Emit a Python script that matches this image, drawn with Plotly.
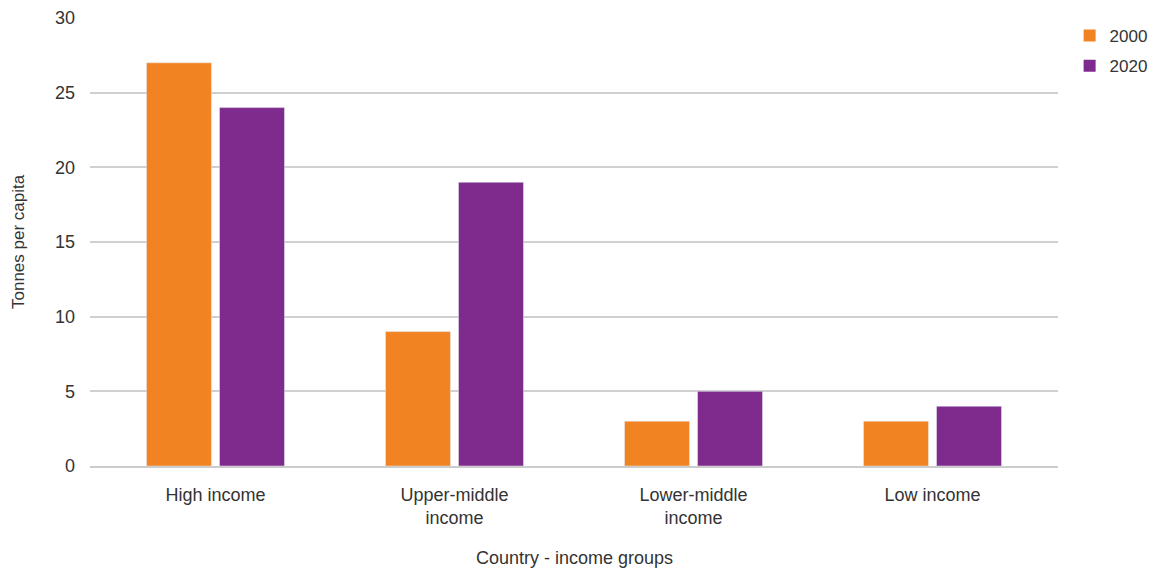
import plotly.graph_objects as go

categories = ["High income", "Upper-middle<br>income", "Lower-middle<br>income", "Low income"]
years = ["2000", "2020"]
values_2000 = [27, 9, 3, 3]
values_2020 = [24, 19, 5, 4]
colors = ["#F28322", "#7F2A8D"]

font_family = "Liberation Sans, Arial, sans-serif"
text_color = "#333333"

fig = go.Figure()
for name, vals, col in zip(years, [values_2000, values_2020], colors):
    fig.add_trace(go.Bar(x=categories, y=vals, name=name, marker_color=col,
                         showlegend=False, legendgroup=name))
    fig.add_trace(go.Scatter(x=[None], y=[None], mode="markers", name=name,
                             legendgroup=name,
                             marker=dict(symbol="square", size=17, color=col)))

fig.update_layout(
    width=1142, height=564,
    margin=dict(l=82, r=92, t=10, b=106, autoexpand=False),
    paper_bgcolor="white", plot_bgcolor="white",
    barmode="group", bargap=0.389, bargroupgap=0.11,
    font=dict(family=font_family, size=18, color=text_color),
    legend=dict(x=1.012, y=1.0, xanchor="left", yanchor="top",
                font=dict(size=17, color=text_color), itemsizing="constant",
                tracegroupgap=5, itemwidth=30),
    showlegend=True,
)
fig.update_xaxes(
    automargin=False,
    range=[-0.525, 3.525],
    showgrid=False, showline=True, linecolor="#cccccc", linewidth=2,
    ticks="", tickfont=dict(size=18), ticklabelstandoff=11,
)
fig.update_yaxes(
    automargin=False,
    range=[0, 30], dtick=5, showgrid=True, gridcolor="#d0d0d0", gridwidth=2,
    zeroline=False, ticks="", ticklabelstandoff=14,
    tickfont=dict(size=18),
)
fig.add_annotation(text="Tonnes per capita", xref="paper", yref="paper",
                   x=0, y=0.5, xanchor="center", yanchor="middle", xshift=-72,
                   textangle=-90, showarrow=False,
                   font=dict(size=17, color=text_color))
fig.add_annotation(text="Country - income groups", xref="paper", yref="paper",
                   x=0.5, y=0, xanchor="center", yanchor="middle", yshift=-92,
                   showarrow=False, font=dict(size=18, color=text_color))

fig.write_html("out.html")
